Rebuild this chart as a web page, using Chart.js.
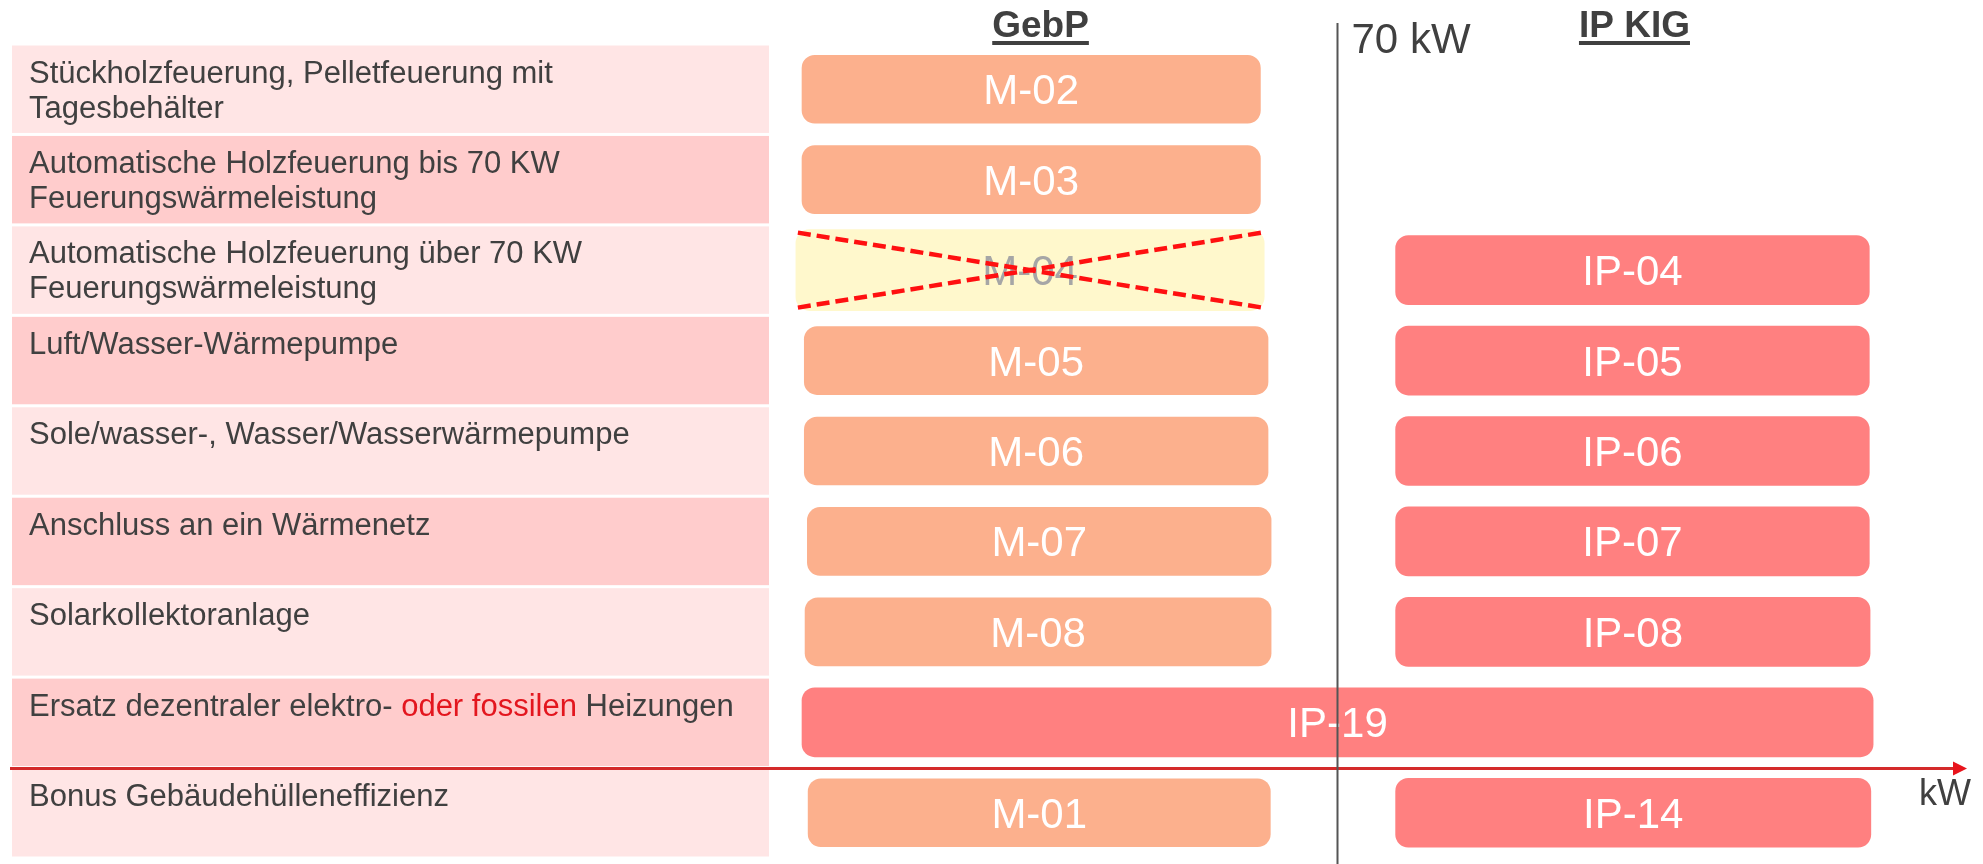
<!DOCTYPE html>
<html>
<head>
<meta charset="utf-8">
<script src="https://cdn.jsdelivr.net/npm/chart.js@4/dist/chart.umd.min.js"></script>
<style>
  html, body { margin: 0; padding: 0; background: #ffffff; }
  #wrap { width: 1983px; height: 864px; }
</style>
</head>
<body>
<div id="wrap"><canvas id="c" width="1983" height="864"></canvas></div>
<script>
// ---------------- data ----------------
const categories = [
  ["Stückholzfeuerung, Pelletfeuerung mit", "Tagesbehälter"],
  ["Automatische Holzfeuerung bis 70 KW", "Feuerungswärmeleistung"],
  ["Automatische Holzfeuerung über 70 KW", "Feuerungswärmeleistung"],
  ["Luft/Wasser-Wärmepumpe"],
  ["Sole/wasser-, Wasser/Wasserwärmepumpe"],
  ["Anschluss an ein Wärmenetz"],
  ["Solarkollektoranlage"],
  ["Ersatz dezentraler elektro- oder fossilen Heizungen"],
  ["Bonus Gebäudehülleneffizienz"]
];
const highlightText = [null, null, null, null, null, null, null, "oder fossilen", null];

const programTitles = ["GebP", "IP KIG"];

const gebpLabels = ["M-02", "M-03", null, "M-05", "M-06", "M-07", "M-08", null, "M-01"];
const gebpStart  = [0, 0, null, 0.3, 0.3, 0.7, 0.4, null, 0.8];
const gebpEnd    = [60, 60, null, 61, 61, 61.4, 61.4, null, 61.3];

const excludedLabels = [null, null, "M-04", null, null, null, null, null, null];
const excludedStart  = [null, null, -0.8, null, null, null, null, null, null];
const excludedEnd    = [null, null, 60.5, null, null, null, null, null, null];

const ipLabels = [null, null, "IP-04", "IP-05", "IP-06", "IP-07", "IP-08", "IP-19", "IP-14"];
const ipStart  = [null, null, 77.7, 77.7, 77.7, 77.7, 77.7, 0, 77.7];
const ipEnd    = [null, null, 139.7, 139.7, 139.7, 139.7, 139.8, 140.2, 139.9];

const thresholdKW = 70;
const thresholdLabel = "70 kW";
const axisUnit = "kW";

// ---------------- helpers ----------------
function ranges(s, e) { return s.map((v, i) => v === null ? null : [v, e[i]]); }
const FONT = "'Liberation Sans', Arial, sans-serif";
const TEXT = "#404040";

const decoPlugin = {
  id: "deco",
  beforeDatasetsDraw(chart) {
    const ctx = chart.ctx, y = chart.scales.y, x = chart.scales.x;
    const band = (y.getPixelForValue(1) - y.getPixelForValue(0));
    ctx.save();
    categories.forEach((lines, i) => {
      const top = y.getPixelForValue(i) - band / 2 + 1.5;
      ctx.fillStyle = i % 2 === 0 ? "#FFE5E5" : "#FFCCCC";
      ctx.fillRect(12, top, 757, band - 3);
      ctx.font = "31px " + FONT;
      ctx.textBaseline = "alphabetic";
      ctx.textAlign = "left";
      lines.forEach((ln, k) => {
        const by = top + 37 + k * 35;
        const hl = highlightText[i];
        if (hl && ln.indexOf(hl) >= 0) {
          const a = ln.slice(0, ln.indexOf(hl)), c = ln.slice(ln.indexOf(hl) + hl.length);
          let px = 29;
          ctx.fillStyle = TEXT; ctx.fillText(a, px, by); px += ctx.measureText(a).width;
          ctx.fillStyle = "#E3161E"; ctx.fillText(hl, px, by); px += ctx.measureText(hl).width;
          ctx.fillStyle = TEXT; ctx.fillText(c, px, by);
        } else {
          ctx.fillStyle = TEXT; ctx.fillText(ln, 29, by);
        }
      });
    });
    // column titles
    const gc = x.getPixelForValue((Math.min(...gebpStart.filter(v => v !== null)) + Math.max(...gebpEnd.filter(v => v !== null))) / 2) + 4;
    const ic = x.getPixelForValue((77.7 + 139.7) / 2) + 2;
    ctx.font = "bold 37px " + FONT;
    ctx.fillStyle = TEXT;
    ctx.textAlign = "center";
    [[programTitles[0], gc], [programTitles[1], ic]].forEach(([t, cx]) => {
      ctx.fillText(t, cx, 37);
      const w = ctx.measureText(t).width;
      ctx.fillRect(cx - w / 2, 41, w, 4);
    });
    ctx.restore();
  },
  afterDatasetsDraw(chart) {
    const ctx = chart.ctx, x = chart.scales.x, y = chart.scales.y;
    ctx.save();
    const labelSets = [gebpLabels, excludedLabels, ipLabels];
    labelSets.forEach((labels, di) => {
      const meta = chart.getDatasetMeta(di);
      meta.data.forEach((el, i) => {
        if (!labels[i]) return;
        const cx = (el.x + el.base) / 2;
        ctx.font = "42px " + FONT;
        ctx.textAlign = "center";
        ctx.textBaseline = "alphabetic";
        ctx.fillStyle = di === 1 ? "#A6A6A6" : "#FFFFFF";
        ctx.fillText(labels[i], cx, el.y + 15);
        if (di === 1) {
          const l = Math.min(el.x, el.base) + 2, r = Math.max(el.x, el.base) - 2;
          const t = el.y - el.height / 2 + 3, b = el.y + el.height / 2 - 3;
          ctx.strokeStyle = "#FF1010";
          ctx.lineWidth = 4.5;
          ctx.setLineDash([13, 6]);
          ctx.beginPath();
          ctx.moveTo(l, t); ctx.lineTo(r, b);
          ctx.moveTo(l, b); ctx.lineTo(r, t);
          ctx.stroke();
          ctx.setLineDash([]);
        }
      });
    });
    // red kW axis with arrow
    const ay = y.getPixelForValue(7.5) + 1;
    ctx.strokeStyle = "#D42A2A";
    ctx.lineWidth = 3;
    ctx.beginPath(); ctx.moveTo(10, ay); ctx.lineTo(1955, ay); ctx.stroke();
    ctx.fillStyle = "#E8141C";
    ctx.beginPath(); ctx.moveTo(1953, ay - 7); ctx.lineTo(1967, ay); ctx.lineTo(1953, ay + 7); ctx.closePath(); ctx.fill();
    ctx.font = "36px " + FONT;
    ctx.fillStyle = TEXT;
    ctx.textAlign = "left";
    ctx.fillText(axisUnit, 1919, 805);
    // 70 kW threshold line
    const tx = Math.round(x.getPixelForValue(thresholdKW)) + 0.5;
    ctx.strokeStyle = "#555555";
    ctx.lineWidth = 2;
    ctx.beginPath(); ctx.moveTo(tx, 23); ctx.lineTo(tx, 864); ctx.stroke();
    ctx.font = "42px " + FONT;
    ctx.fillStyle = TEXT;
    ctx.fillText(thresholdLabel, tx + 14, 53);
    ctx.restore();
  }
};

new Chart(document.getElementById("c"), {
  type: "bar",
  data: {
    labels: categories.map(l => l.join(" ")),
    datasets: [
      { label: programTitles[0], data: ranges(gebpStart, gebpEnd), backgroundColor: "#FCB08D",
        barThickness: 68, borderRadius: 13, borderSkipped: false, grouped: false },
      { label: "M-04", data: ranges(excludedStart, excludedEnd), backgroundColor: "#FFF8CC",
        barThickness: 81, borderRadius: 14, borderSkipped: false, grouped: false },
      { label: programTitles[1], data: ranges(ipStart, ipEnd), backgroundColor: "#FF8080",
        barThickness: 69, borderRadius: 13, borderSkipped: false, grouped: false }
    ]
  },
  options: {
    indexAxis: "y",
    responsive: false,
    animation: false,
    devicePixelRatio: 1,
    layout: { padding: { left: 38, right: 35, top: 44, bottom: 6 } },
    scales: {
      x: { type: "linear", min: -100, max: 150, display: false },
      y: { type: "category", display: false, offset: true }
    },
    plugins: { legend: { display: false }, tooltip: { enabled: false } }
  },
  plugins: [decoPlugin]
});
</script>
</body>
</html>
